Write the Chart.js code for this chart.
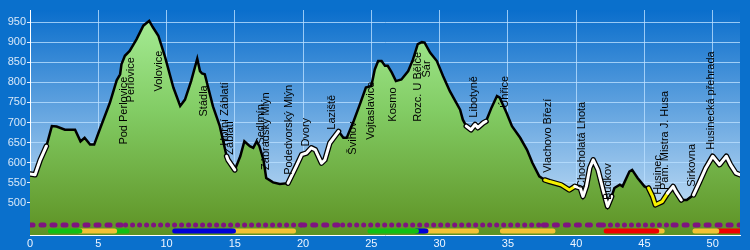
<!DOCTYPE html>
<html>
<head>
<meta charset="utf-8">
<script src="https://cdn.jsdelivr.net/npm/chart.js@4.4.1/dist/chart.umd.min.js"></script>
<style>
  html, body { margin: 0; padding: 0; background: #0a70cc; }
  canvas { display: block; }
</style>
</head>
<body>
<canvas id="profile" width="750" height="250"></canvas>
<script>
// elevation profile: distance (km) / altitude (m)
const km = [0, 0.37, 0.75, 1.2, 1.6, 1.95, 2.56, 3.3, 3.7, 4.0, 4.4, 4.7, 5.1, 5.85, 6.35, 6.6, 6.7, 6.95, 7.3, 7.8,
  8.3, 8.73, 9.0, 9.4, 9.9, 10.5, 11.0, 11.35, 11.8, 12.25, 12.45, 12.6, 12.8, 13.05, 13.4, 13.9, 14.4, 14.5, 15.0, 15.4,
  15.7, 16.1, 16.35, 16.6, 16.8, 17.1, 17.3, 17.8, 18.3, 18.9, 19.5, 19.9, 20.25, 20.6, 20.9, 21.35, 21.6, 21.96, 22.6, 22.95,
  23.2, 23.7, 24.2, 24.6, 25.0, 25.25, 25.5, 25.75, 26.0, 26.2, 26.5, 26.8, 27.2, 27.7, 28.05, 28.4, 28.7, 28.9, 29.3, 29.8,
  30.25, 30.75, 31.5, 31.7, 31.95, 32.3, 32.6, 32.8, 33.2, 33.4, 33.8, 34.2, 34.4, 34.9, 35.3, 35.9, 36.4, 36.8, 37.3, 37.7,
  38.06, 38.9, 39.5, 39.9, 40.3, 40.5, 40.75, 41.0, 41.25, 41.6, 41.97, 42.3, 42.6, 42.8, 43.2, 43.4, 43.9, 44.1, 44.5, 45.0,
  45.3, 45.6, 45.8, 46.3, 46.7, 47.1, 47.3, 47.7, 48.1, 48.6, 49.0, 49.5, 50.0, 50.5, 51.0, 51.3, 51.7, 52.0];
const elev = [572, 570, 607, 641, 691, 690, 682, 682, 653, 662, 645, 645, 682, 749, 805, 820, 845, 866, 878, 907,
  941, 953, 937, 916, 862, 787, 741, 757, 803, 859, 828, 822, 820, 787, 740, 691, 616, 607, 582, 616,
  653, 641, 637, 653, 641, 607, 562, 551, 547, 549, 591, 620, 624, 637, 632, 599, 607, 649, 678, 662,
  662, 703, 749, 787, 791, 832, 853, 853, 841, 841, 824, 803, 807, 828, 857, 895, 900, 899, 874, 853,
  816, 778, 732, 707, 691, 682, 695, 687, 699, 703, 737, 766, 762, 724, 691, 662, 632, 599, 566, 557,
  553, 545, 532, 541, 537, 516, 541, 587, 607, 582, 532, 491, 516, 537, 545, 541, 578, 582, 562, 541,
  537, 516, 495, 503, 524, 541, 528, 507, 507, 520, 549, 587, 616, 595, 616, 595, 574, 570];

// highlighted stretches of the route line
const hiFrom = [0, 14.4, 18.9, 31.95, 37.7, 39.9, 45.3, 46.7, 48.6];
const hiTo = [1.2, 15.0, 22.6, 33.4, 39.9, 42.6, 46.7, 47.7, 52];
const hiColor = ['#ffffff', '#ffffff', '#ffffff', '#ffffff', '#f4f000', '#ffffff', '#f4f000', '#ffffff', '#ffffff'];

// place names
const placeNames = ['Pod Perlovice', 'Perlovice', 'Volovice', 'Stádla', 'Horní Záblatí', 'Záblatí', 'Sedlmín',
  'Zábradský Mlýn', 'Podedvorský Mlýn', 'Dvory', 'Laziště', 'Švihov', 'Vojtaslavice', 'Kosmo', 'Rozc. U Bělče', 'Šár',
  'Libotyně', 'Úhřice', 'Vlachovo Březí', 'Chocholatá Lhota', 'Budkov', 'Husinec', 'Pam. Mistra J. Husa', 'Sirkovna',
  'Husinecká přehrada'];
const placeKm = [6.86, 7.41, 9.42, 12.77, 14.3, 14.67, 16.9, 17.3, 18.98, 20.2, 22.1, 23.65, 25.0, 26.6, 28.4, 29.1,
  32.5, 34.8, 37.96, 40.4, 42.3, 46.0, 46.5, 48.5, 49.9];
const placeElev = [645, 750, 777, 715, 642, 620, 645, 582, 570, 640, 682, 620, 657, 702, 702, 812,
  712, 737, 575, 537, 507, 520, 532, 540, 632];

// dotted/dashed purple band
const purpleFrom = [0, 7, 19.9, 22.9, 37.6, 42, 47.1];
const purpleTo = [7, 19.9, 22.9, 37.6, 42, 47.1, 52];
const purpleStyle = ['dash', 'dot', 'dash', 'dot', 'dash', 'dot', 'dash'];

// coloured surface bars
const barFrom = [1.5, 3.65, 6.2, 10.6, 14.9, 24.9, 28.3, 29.0, 34.6, 42.2, 45.9, 48.7, 50.4];
const barTo = [3.65, 6.2, 7.1, 14.9, 19.3, 28.3, 29.0, 32.7, 38.3, 45.9, 46.3, 50.3, 52];
const barColor = ['#12c012', '#f2c234', '#12c012', '#0000d8', '#f2c234', '#12c012', '#0000d8', '#f2c234',
  '#f2c234', '#f00000', '#f2c234', '#f2c234', '#f00000'];

const xTicks = [0, 5, 10, 15, 20, 25, 30, 35, 40, 45, 50];
const yTicks = [500, 550, 600, 650, 700, 750, 800, 850, 900, 950];

const purpleY = 445;
const barY = 430;
const gridColor = 'rgba(185, 222, 255, 0.8)';

Chart.defaults.font.family = '"Liberation Sans", Arial, sans-serif';
Chart.defaults.font.size = 11;

const points = km.map((k, i) => ({ x: k, y: elev[i] }));

function hiIndex(ctx) {
    const a = km[ctx.p0DataIndex], b = km[ctx.p1DataIndex];
    return hiFrom.findIndex((f, i) => a >= f - 0.001 && b <= hiTo[i] + 0.001);
}

const datasets = [];

datasets.push({
    data: points,
    order: 5,
    fill: 'start',
    borderColor: '#000',
    borderWidth: 2.5,
    pointRadius: 0,
    tension: 0,
    backgroundColor: c => {
        const a = c.chart.chartArea;
        if (!a) return '#7cc860';
        const g = c.chart.ctx.createLinearGradient(0, a.top, 0, a.bottom);
        g.addColorStop(0, '#a8ee98');
        g.addColorStop(0.45, '#82cc64');
        g.addColorStop(1, '#5e9224');
        return g;
    }
});

// black outline under the highlighted stretches
datasets.push({
    data: points,
    order: 4,
    fill: false,
    pointRadius: 0,
    borderWidth: 5.5,
    borderCapStyle: 'round',
    borderJoinStyle: 'round',
    borderColor: 'rgba(0,0,0,0)',
    segment: { borderColor: ctx => hiIndex(ctx) >= 0 ? '#000' : 'rgba(0,0,0,0)' }
});

datasets.push({
    data: points,
    order: 3,
    fill: false,
    pointRadius: 0,
    borderWidth: 3,
    borderCapStyle: 'round',
    borderJoinStyle: 'round',
    borderColor: 'rgba(0,0,0,0)',
    segment: {
        borderColor: ctx => {
            const i = hiIndex(ctx);
            return i >= 0 ? hiColor[i] : 'rgba(0,0,0,0)';
        }
    }
});

purpleFrom.forEach((f, i) => {
    const dot = purpleStyle[i] === 'dot';
    datasets.push({
        data: [{ x: f, y: purpleY }, { x: purpleTo[i], y: purpleY }],
        order: 2,
        fill: false,
        pointRadius: 0,
        borderColor: '#7e1480',
        borderWidth: 5,
        borderCapStyle: 'round',
        borderDash: dot ? [0, 7] : [3, 8]
    });
});

barFrom.forEach((f, i) => {
    datasets.push({
        data: [{ x: f, y: barY }, { x: barTo[i], y: barY }],
        order: 1,
        fill: false,
        pointRadius: 0,
        borderColor: barColor[i],
        borderWidth: 5,
        borderCapStyle: 'round'
    });
});

const plotBackground = {
    id: 'plotBackground',
    beforeDraw(chart) {
        const { ctx, chartArea: a } = chart;
        const g = ctx.createLinearGradient(0, a.top, 0, a.bottom);
        g.addColorStop(0, '#0a6ecc');
        g.addColorStop(1, '#d2e7f8');
        ctx.save();
        ctx.fillStyle = g;
        ctx.fillRect(a.left, a.top, a.right - a.left, a.bottom - a.top);
        ctx.restore();
    }
};

const placeLabels = {
    id: 'placeLabels',
    afterDatasetsDraw(chart) {
        const { ctx, scales: { x, y } } = chart;
        ctx.save();
        ctx.font = '11px "Liberation Sans", Arial, sans-serif';
        ctx.fillStyle = '#000';
        ctx.textAlign = 'left';
        ctx.textBaseline = 'middle';
        placeNames.forEach((name, i) => {
            ctx.save();
            ctx.translate(x.getPixelForValue(placeKm[i]), y.getPixelForValue(placeElev[i]));
            ctx.rotate(-Math.PI / 2);
            ctx.fillText(name, 0, 0);
            ctx.restore();
        });
        ctx.restore();
    }
};

new Chart(document.getElementById('profile'), {
    type: 'line',
    data: { datasets },
    plugins: [plotBackground, placeLabels],
    options: {
        responsive: false,
        animation: false,
        layout: { padding: { top: 10, right: 10, left: 0, bottom: 0 } },
        plugins: { legend: { display: false }, tooltip: { enabled: false } },
        scales: {
            x: {
                type: 'linear',
                min: 0,
                max: 52,
                afterBuildTicks: s => { s.ticks = xTicks.map(v => ({ value: v })); },
                afterFit: s => { s.height = 15; },
                grid: { color: gridColor, drawTicks: false },
                border: { color: '#ffffff' },
                ticks: { color: '#eef5ff', padding: 2, maxRotation: 0 }
            },
            y: {
                min: 420,
                max: 980,
                afterBuildTicks: s => { s.ticks = yTicks.map(v => ({ value: v })); },
                afterFit: s => { s.width = 30; },
                grid: { color: gridColor, tickLength: 3, tickColor: '#e6f0ff' },
                border: { color: '#ffffff' },
                ticks: { color: '#d8e8f8', padding: 1 }
            }
        }
    }
});
</script>
</body>
</html>
